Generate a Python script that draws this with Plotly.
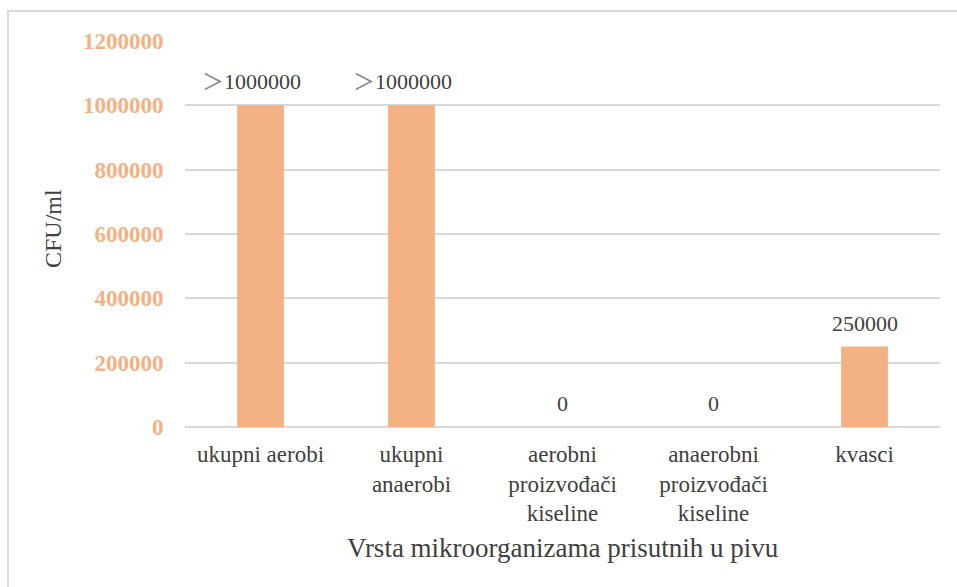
import plotly.graph_objects as go

# Microorganism counts found in the beer sample (CFU/ml)
categories = [
    "ukupni aerobi",
    "ukupni<br>anaerobi",
    "aerobni<br>proizvođači<br>kiseline",
    "anaerobni<br>proizvođači<br>kiseline",
    "kvasci",
]
values = [1000000, 1000000, 0, 0, 250000]
value_labels = [
    "<span style='color:#7F7F7F'>＞</span>1000000",
    "<span style='color:#7F7F7F'>＞</span>1000000",
    "0",
    "0",
    "250000",
]
y_ticks = [0, 200000, 400000, 600000, 800000, 1000000, 1200000]

BAR = "#F4B183"
TEXT = "#404040"
GRID = "#D9D9D9"
SERIF = "Liberation Serif, Noto Sans CJK SC"

# plot area in pixels (left, right, top, bottom)
L, R, T, B = 185, 940, 41, 427


def px_x(p):
    return (p - L) / (R - L)


def px_y(p):
    return (B - p) / (B - T)


fig = go.Figure(
    go.Bar(
        x=categories,
        y=values,
        width=0.31,
        marker=dict(color=BAR, line=dict(width=0)),
        cliponaxis=False,
    )
)

# value labels above each bar; labels with the ">" prefix sit a little left
for cat, val, lab in zip(categories, values, value_labels):
    fig.add_annotation(
        x=cat, y=val, text=lab, showarrow=False,
        yanchor="bottom", yshift=9,
        xshift=-9 if "＞" in lab else 0,
        font=dict(family=SERIF, size=22, color=TEXT),
    )

# axis titles
fig.add_annotation(
    xref="paper", yref="paper", x=px_x(563), y=px_y(548),
    text="Vrsta mikroorganizama prisutnih u pivu", showarrow=False,
    xanchor="center", yanchor="middle",
    font=dict(family=SERIF, size=27, color=TEXT),
)
fig.add_annotation(
    xref="paper", yref="paper", x=px_x(53), y=px_y(229),
    text="CFU/ml", showarrow=False, textangle=-90,
    xanchor="center", yanchor="middle",
    font=dict(family=SERIF, size=24, color=TEXT),
)

fig.update_layout(
    width=957,
    height=587,
    margin=dict(l=L, r=957 - R, t=T, b=587 - B),
    paper_bgcolor="white",
    plot_bgcolor="white",
    showlegend=False,
    font=dict(family=SERIF, color=TEXT),
    xaxis=dict(
        showgrid=False,
        showline=False,
        ticks="outside",
        ticklen=6,
        tickcolor="rgba(0,0,0,0)",
        tickfont=dict(family=SERIF, size=23, color=TEXT),
    ),
    yaxis=dict(
        range=[0, 1200000],
        tickvals=y_ticks,
        ticktext=["<b>%d</b>" % v for v in y_ticks],
        showgrid=True,
        gridcolor=GRID,
        gridwidth=2,
        zeroline=True,
        zerolinecolor=GRID,
        zerolinewidth=2,
        showline=False,
        ticks="outside",
        ticklen=16,
        tickcolor="rgba(0,0,0,0)",
        tickfont=dict(family=SERIF, size=23, color=BAR),
    ),
    shapes=[
        dict(
            type="rect",
            xref="paper",
            yref="paper",
            x0=px_x(8),
            x1=px_x(975),
            y0=px_y(600),
            y1=px_y(11),
            line=dict(color=GRID, width=2),
            fillcolor="rgba(0,0,0,0)",
            layer="below",
        )
    ],
)

fig.write_html("out.html")
